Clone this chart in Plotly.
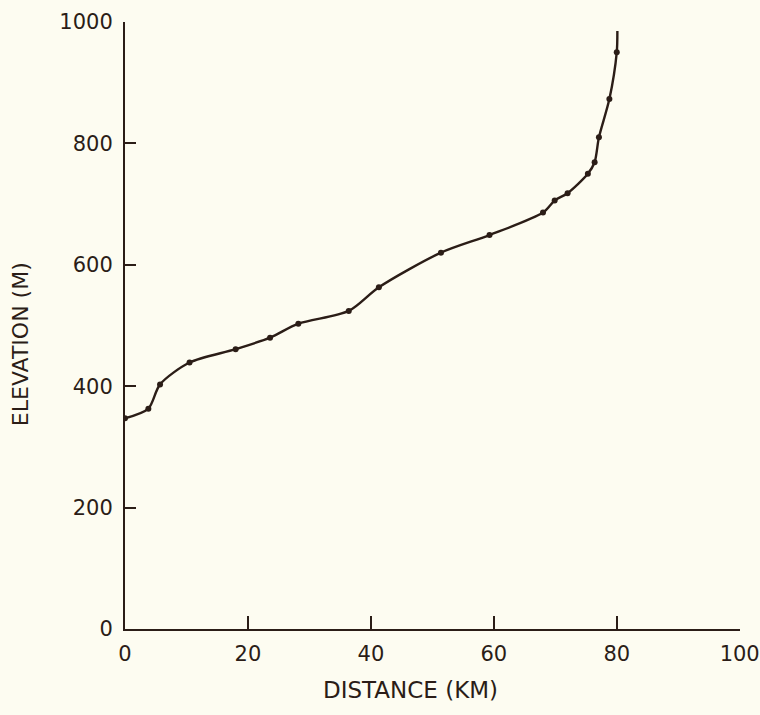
import plotly.graph_objects as go

# Data
distance_km = [0.0, 3.8, 5.7, 10.5, 18.0, 23.6, 28.2, 36.4, 41.3, 51.4, 59.3,
               68.0, 69.9, 72.0, 75.3, 76.4, 77.1, 78.8, 80.0]
elevation_m = [347, 363, 403, 439, 461, 480, 503, 524, 563, 620, 649,
               686, 706, 718, 750, 769, 810, 873, 950]
# end of the drawn curve (no marker)
line_end_x = [80.1]
line_end_y = [985]

x_ticks = [0, 20, 40, 60, 80, 100]
y_ticks = [0, 200, 400, 600, 800, 1000]

ink = "#2b1d17"
paper = "#fdfcf1"
font_family = "DejaVu Sans, Liberation Sans, sans-serif"

fig = go.Figure()
fig.add_trace(go.Scatter(
    x=distance_km + line_end_x,
    y=elevation_m + line_end_y,
    mode="lines",
    line=dict(color=ink, width=2.4, shape="spline", smoothing=0.8),
    hoverinfo="skip",
    showlegend=False,
))
fig.add_trace(go.Scatter(
    x=distance_km,
    y=elevation_m,
    mode="markers",
    marker=dict(color=ink, size=6),
    showlegend=False,
))

fig.update_layout(
    width=760, height=715,
    paper_bgcolor=paper, plot_bgcolor=paper,
    margin=dict(l=125, r=20, t=22, b=86),
    font=dict(family=font_family, color=ink, size=20),
    xaxis=dict(
        range=[0, 100.05], tickvals=x_ticks, ticktext=[str(v) for v in x_ticks],
        showgrid=False, zeroline=False, showline=True, linecolor=ink, linewidth=2,
        ticks="inside", ticklen=13, tickwidth=2, tickcolor=ink, automargin=False,
        ticklabelstandoff=5, tickfont=dict(size=21), ticklabeloverflow="allow",
    ),
    yaxis=dict(
        range=[0, 1000], tickvals=y_ticks, ticktext=[str(v) for v in y_ticks],
        showgrid=False, zeroline=False, showline=True, linecolor=ink, linewidth=2,
        ticks="inside", ticklen=11, tickwidth=2, tickcolor=ink, automargin=False,
        ticklabelstandoff=6, tickfont=dict(size=21), ticklabeloverflow="allow",
    ),
    annotations=[
        dict(text="DISTANCE (KM)", xref="paper", yref="paper",
             x=0.465, y=-0.101, xanchor="center", yanchor="middle",
             showarrow=False, font=dict(size=23, color=ink)),
        dict(text="ELEVATION (M)", xref="paper", yref="paper",
             x=-0.17, y=0.47, xanchor="center", yanchor="middle",
             textangle=-90, showarrow=False, font=dict(size=22, color=ink)),
    ],
)

fig.write_html(
    "out.html",
    config={"displayModeBar": False},
    post_script="document.body.style.margin='0';document.body.style.background='%s';" % paper,
)
